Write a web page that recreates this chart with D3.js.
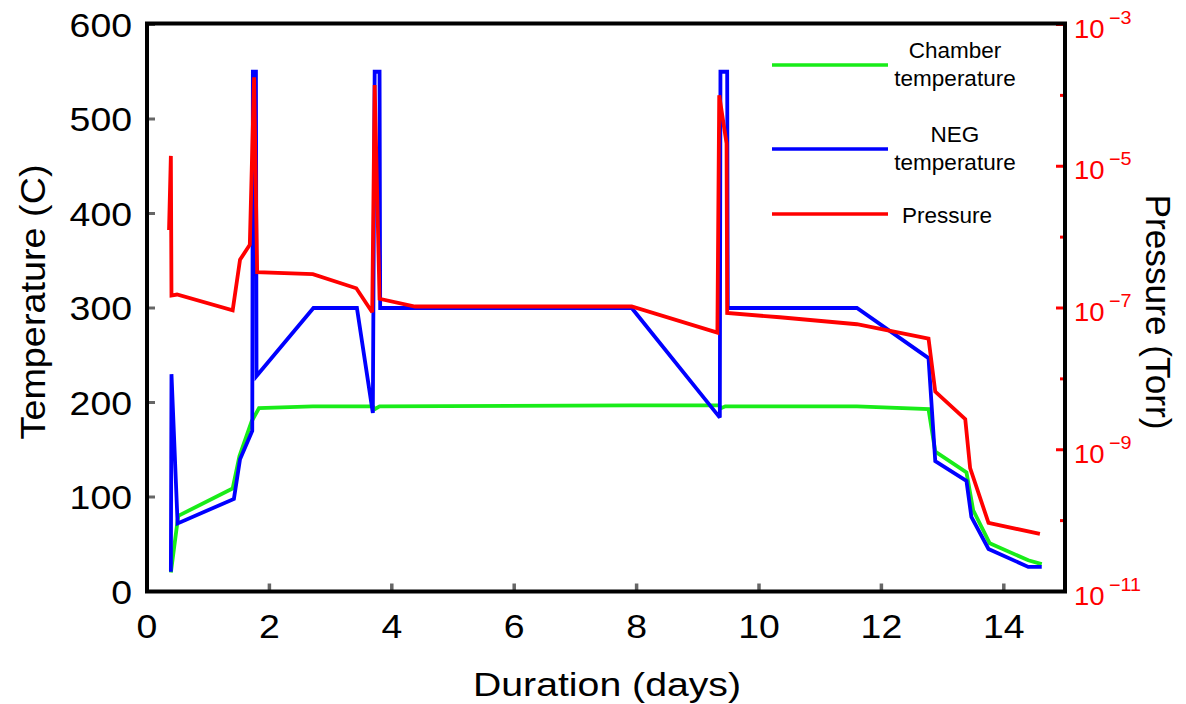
<!DOCTYPE html>
<html>
<head>
<meta charset="utf-8">
<script src="https://cdn.jsdelivr.net/npm/d3@7"></script>
<style>
  body { margin: 0; background: #fff; }
  svg { display: block; }
  text { font-family: "Liberation Sans", Arial, Helvetica, sans-serif; }
</style>
</head>
<body>
<svg id="chart" width="1186" height="704"></svg>
<script>
// ---- data -------------------------------------------------------------
const chamberDays = [0.39, 0.51, 1.40, 1.51, 1.71, 1.83, 2.71, 3.69, 3.72, 3.80, 7.90, 9.35, 9.38, 9.45, 11.60, 12.77, 12.88, 13.39, 13.50, 13.77, 14.40, 14.62];
const chamberTemp = [20, 80, 109, 143, 180, 194, 196, 196, 193, 196, 197, 197, 194, 196, 196, 193, 148, 126, 86, 51, 33, 29];

const negDays = [0.39, 0.40, 0.50, 1.42, 1.52, 1.72, 1.73, 1.78, 1.79, 2.72, 3.43, 3.69, 3.72, 3.80, 3.81, 7.92, 9.36, 9.37, 9.48, 9.49, 11.60, 12.77, 12.88, 13.39, 13.47, 13.75, 14.40, 14.62];
const negTemp = [21, 230, 72, 98, 140, 170, 550, 550, 228, 300, 300, 189, 550, 550, 300, 300, 184, 550, 550, 300, 300, 247, 138, 117, 79, 45, 26, 26];

const pressureDays = [0.36, 0.39, 0.40, 0.49, 1.40, 1.52, 1.68, 1.75, 1.80, 2.71, 3.42, 3.68, 3.72, 3.80, 4.38, 7.92, 9.32, 9.35, 9.47, 9.48, 10.34, 11.60, 12.77, 12.88, 13.37, 13.45, 13.75, 14.59];
const pressureTorr = [1.26e-6, 1.4e-5, 1.5e-7, 1.55e-7, 9.3e-8, 4.8e-7, 7.8e-7, 1.8e-4, 3.2e-7, 3.0e-7, 1.9e-7, 8.7e-8, 1.4e-4, 1.35e-7, 1.05e-7, 1.05e-7, 4.5e-8, 1.0e-4, 2.1e-5, 8.5e-8, 7.4e-8, 5.9e-8, 3.7e-8, 6.6e-9, 2.7e-9, 5.5e-10, 9.3e-11, 6.5e-11];

const dayTicks = [0, 2, 4, 6, 8, 10, 12, 14];
const tempTicks = [0, 100, 200, 300, 400, 500, 600];
const pressureMajorExps = [-3, -5, -7, -9, -11];
const pressureMinorExps = [-4, -6, -8, -10];

const seriesNames = ["Chamber\ntemperature", "NEG\ntemperature", "Pressure"];
const seriesColors = ["#19ec19", "#0000ff", "#ff0000"];

// ---- layout -----------------------------------------------------------
const svg = d3.select("#chart");
const plotLeft = 147, plotRight = 1065, plotTop = 24.5, plotBottom = 591.5;

const x = d3.scaleLinear().domain([0, 15]).range([plotLeft, plotRight]);
const yT = d3.scaleLinear().domain([0, 600]).range([plotBottom, plotTop]);
const yP = d3.scaleLog().domain([1e-11, 1e-3]).range([plotBottom, plotTop]);

const stretch = 1.1;

// ---- series lines -----------------------------------------------------
function drawSeries(days, vals, yScale, color) {
  const pts = days.map((d, i) => [d, vals[i]]);
  svg.append("path")
    .datum(pts)
    .attr("fill", "none")
    .attr("stroke", color)
    .attr("stroke-width", 3.8)
    .attr("stroke-linejoin", "miter")
    .attr("stroke-miterlimit", 3)
    .attr("d", d3.line().x(p => x(p[0])).y(p => yScale(p[1])));
}
drawSeries(chamberDays, chamberTemp, yT, seriesColors[0]);
drawSeries(negDays, negTemp, yT, seriesColors[1]);
drawSeries(pressureDays, pressureTorr, yP, seriesColors[2]);

// ---- ticks ------------------------------------------------------------
const tickG = svg.append("g");
tickG.append("g").selectAll("line").data(tempTicks).join("line")
  .attr("x1", plotLeft).attr("x2", plotLeft + 8)
  .attr("y1", d => yT(d)).attr("y2", d => yT(d))
  .attr("stroke", "#666").attr("stroke-width", 3);
tickG.append("g").selectAll("line").data(dayTicks).join("line")
  .attr("x1", d => x(d)).attr("x2", d => x(d))
  .attr("y1", plotBottom).attr("y2", plotBottom - 8)
  .attr("stroke", "#666").attr("stroke-width", 3.5);
tickG.append("g").selectAll("line").data(pressureMajorExps).join("line")
  .attr("x1", plotRight).attr("x2", plotRight - 9)
  .attr("y1", d => yP(Math.pow(10, d))).attr("y2", d => yP(Math.pow(10, d)))
  .attr("stroke", "#ff0000").attr("stroke-width", 3);
tickG.append("g").selectAll("line").data(pressureMinorExps).join("line")
  .attr("x1", plotRight).attr("x2", plotRight - 5)
  .attr("y1", d => yP(Math.pow(10, d))).attr("y2", d => yP(Math.pow(10, d)))
  .attr("stroke", "#ff0000").attr("stroke-width", 3);

// ---- frame ------------------------------------------------------------
svg.append("rect")
  .attr("x", plotLeft).attr("y", plotTop - 1)
  .attr("width", plotRight - plotLeft).attr("height", plotBottom - plotTop + 1)
  .attr("fill", "none").attr("stroke", "#000").attr("stroke-width", 4);

// ---- tick labels ------------------------------------------------------
svg.append("g").selectAll("text").data(tempTicks).join("text")
  .attr("transform", d => `translate(132,${yT(d) + 12}) scale(${stretch},1)`)
  .attr("text-anchor", "end")
  .attr("font-size", 34)
  .text(d => d);

svg.append("g").selectAll("text").data(dayTicks).join("text")
  .attr("transform", d => `translate(${x(d)},638) scale(${stretch},1)`)
  .attr("text-anchor", "middle")
  .attr("font-size", 34)
  .text(d => d);

const rLab = svg.append("g").selectAll("text").data(pressureMajorExps).join("text")
  .attr("transform", d => `translate(1074,${yP(Math.pow(10, d)) + 13}) scale(${stretch},1)`)
  .attr("fill", "#ff0000")
  .attr("font-size", 25);
rLab.append("tspan").text("10");
rLab.append("tspan").attr("dx", 4).attr("dy", -14).attr("font-size", 18)
  .text(d => "\u2212" + Math.abs(d));

// ---- axis titles ------------------------------------------------------
svg.append("text")
  .attr("x", 607).attr("y", 696)
  .attr("text-anchor", "middle")
  .attr("font-size", 34)
  .attr("textLength", 268).attr("lengthAdjust", "spacingAndGlyphs")
  .text("Duration  (days)");

svg.append("text")
  .attr("transform", "translate(45,302) rotate(-90)")
  .attr("text-anchor", "middle")
  .attr("font-size", 35)
  .attr("textLength", 275).attr("lengthAdjust", "spacingAndGlyphs")
  .text("Temperature (C)");

svg.append("text")
  .attr("transform", "translate(1146,312) rotate(90)")
  .attr("text-anchor", "middle")
  .attr("font-size", 35)
  .attr("textLength", 235).attr("lengthAdjust", "spacingAndGlyphs")
  .text("Pressure (Torr)");

// ---- legend -----------------------------------------------------------
const legendY = [65, 149, 214];
const legend = svg.append("g");
seriesNames.forEach((name, i) => {
  legend.append("line")
    .attr("x1", 772).attr("x2", 888)
    .attr("y1", legendY[i]).attr("y2", legendY[i])
    .attr("stroke", seriesColors[i]).attr("stroke-width", 3.4);
  const lines = name.split("\n");
  if (lines.length === 2) {
    lines.forEach((ln, j) => {
      legend.append("text")
        .attr("x", 955).attr("y", legendY[i] - 7 + j * 27.5)
        .attr("text-anchor", "middle").attr("font-size", 22.5)
        .text(ln);
    });
  } else {
    legend.append("text")
      .attr("x", 947).attr("y", legendY[i] + 9)
      .attr("text-anchor", "middle").attr("font-size", 22.5)
      .text(name);
  }
});
</script>
</body>
</html>
